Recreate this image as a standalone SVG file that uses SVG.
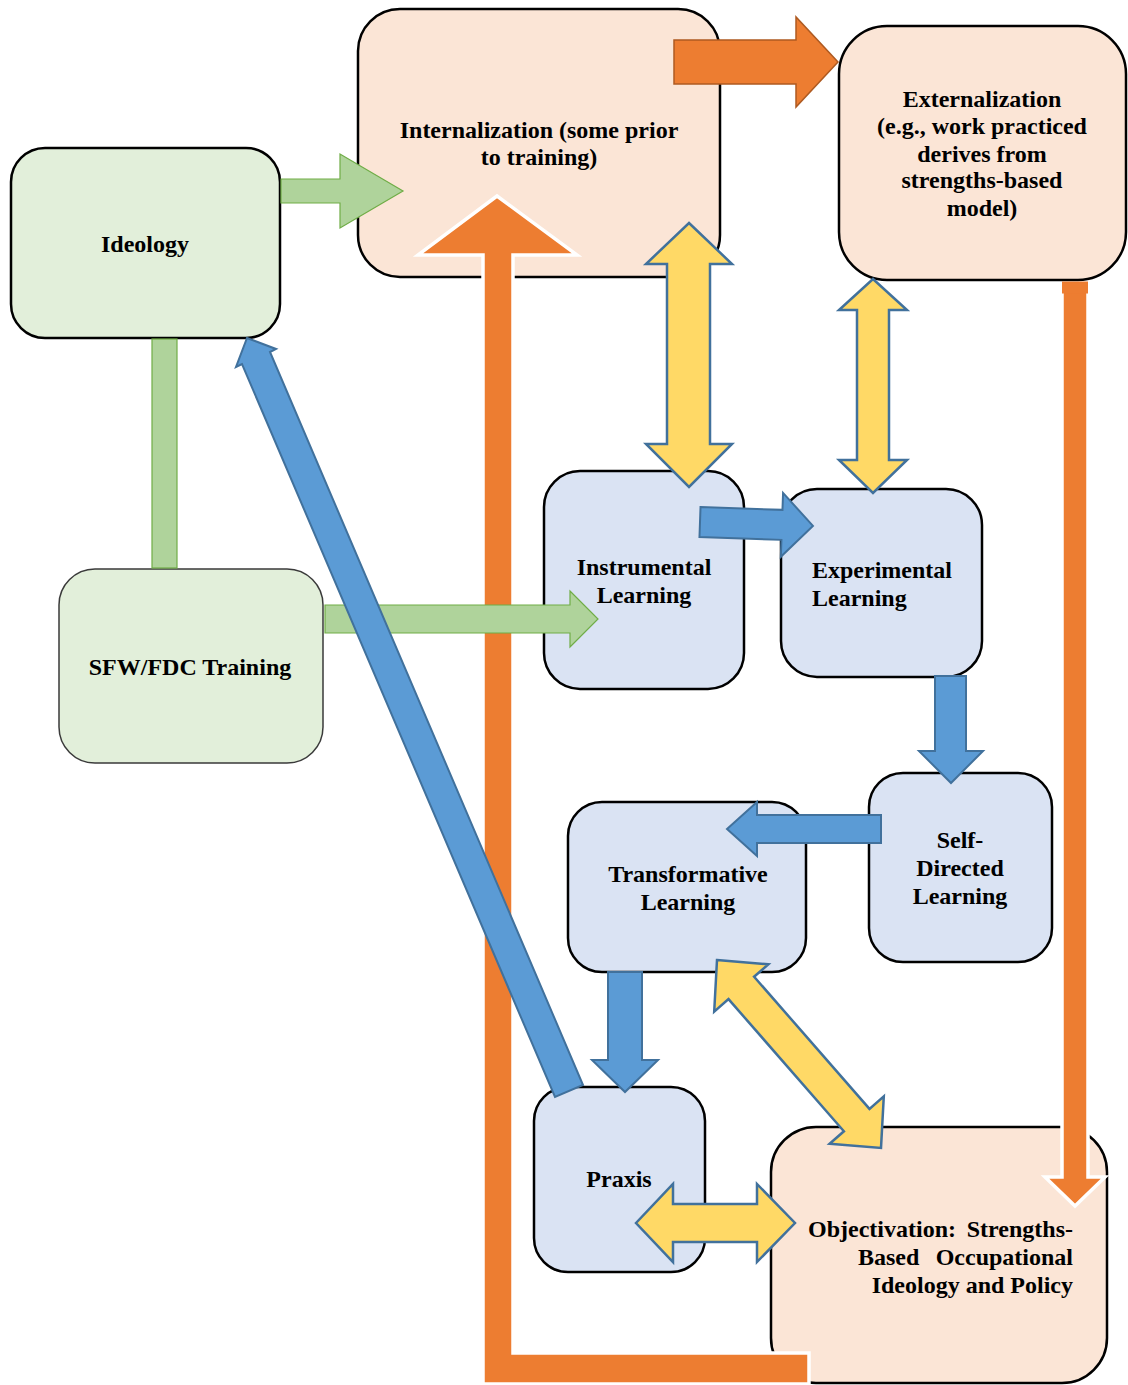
<svg xmlns="http://www.w3.org/2000/svg" width="1128" height="1385" viewBox="0 0 1128 1385">
  <style>
    .box { stroke: #000; stroke-width: 2.5; }
    .thin { stroke: #3a3a3a; stroke-width: 1.5; }
    .peach { fill: #FBE5D6; }
    .green { fill: #E2EFDA; }
    .blue { fill: #DAE3F3; }
    text { font-family: "Liberation Serif", "Times New Roman", serif; font-weight: bold; font-size: 24px; fill: #000; }
    .c { text-anchor: middle; }
    .e { text-anchor: end; }
    .orange { fill: #ED7D31; stroke: #fff; stroke-width: 3.5; stroke-linejoin: miter; }
    .orange-flat { fill: #ED7D31; }
    .orange-dark { fill: #ED7D31; stroke: #AE5A21; stroke-width: 1.5; }
    .yellow { fill: #FFD966; stroke: #41719C; stroke-width: 2.5; stroke-linejoin: miter; }
    .bluea { fill: #5B9BD5; stroke: #41719C; stroke-width: 2; }
    .greena { fill: #AFD39B; stroke: #70AD47; stroke-width: 1.2; }
  </style>

  <rect width="1128" height="1385" fill="#fff"/>

  <!-- nodes -->
  <g id="internalization">
    <rect class="box peach" x="358" y="9" width="362" height="268" rx="42"/>
    <text class="c" x="539" y="138">Internalization (some prior</text>
    <text class="c" x="539" y="165">to training)</text>
  </g>

  <g id="externalization">
    <rect class="box peach" x="839" y="26" width="287" height="254" rx="48"/>
    <text class="c" x="982" y="107">Externalization</text>
    <text class="c" x="982" y="134">(e.g., work practiced</text>
    <text class="c" x="982" y="162">derives from</text>
    <text class="c" x="982" y="188">strengths-based</text>
    <text class="c" x="982" y="216">model)</text>
  </g>

  <g id="ideology">
    <rect class="box green" x="11" y="148" width="269" height="190" rx="34"/>
    <text class="c" x="145" y="252">Ideology</text>
  </g>

  <g id="sfw-fdc-training">
    <rect class="thin green" x="59" y="569" width="264" height="194" rx="36"/>
    <text class="c" x="190" y="675">SFW/FDC Training</text>
  </g>

  <g id="instrumental-learning">
    <rect class="box blue" x="544" y="471" width="200" height="218" rx="36"/>
    <text class="c" x="644" y="575">Instrumental</text>
    <text class="c" x="644" y="603">Learning</text>
  </g>

  <g id="experimental-learning">
    <rect class="box blue" x="781" y="489" width="201" height="188" rx="36"/>
    <text x="812" y="578">Experimental</text>
    <text x="812" y="606">Learning</text>
  </g>

  <g id="self-directed-learning">
    <rect class="box blue" x="869" y="773" width="183" height="189" rx="34"/>
    <text class="c" x="960" y="848">Self-</text>
    <text class="c" x="960" y="876">Directed</text>
    <text class="c" x="960" y="904">Learning</text>
  </g>

  <g id="transformative-learning">
    <rect class="box blue" x="568" y="802" width="238" height="170" rx="34"/>
    <text class="c" x="688" y="882">Transformative</text>
    <text class="c" x="688" y="910">Learning</text>
  </g>

  <g id="praxis">
    <rect class="box blue" x="534" y="1087" width="171" height="185" rx="34"/>
    <text class="c" x="619" y="1187">Praxis</text>
  </g>

  <g id="objectivation">
    <rect class="box peach" x="771" y="1127" width="336" height="256" rx="45"/>
    <text x="808" y="1237">Objectivation:</text>
    <text class="e" x="1073" y="1237">Strengths-</text>
    <text x="858" y="1265">Based</text>
    <text class="e" x="1073" y="1265">Occupational</text>
    <text class="e" x="1073" y="1293">Ideology and Policy</text>
  </g>

  <!-- connectors -->
  <g id="connectors">
    <!-- internalization to externalization -->
    <polygon class="orange-dark" points="674,40 796,40 796,17 838,62 796,107 796,84 674,84"/>

    <!-- ideology to internalization -->
    <polygon class="greena" points="281,179 340,179 340,154 403,191 340,228 340,203 281,203"/>

    <!-- ideology / training link -->
    <rect class="greena" x="152" y="339" width="25" height="229"/>

    <!-- externalization down to objectivation -->
    <polygon class="orange" points="1062,290 1088,290 1088,1177 1105,1177 1075,1206 1045,1177 1062,1177"/>
    <rect class="orange-flat" x="1062" y="281.5" width="26" height="12"/>

    <!-- objectivation back up to internalization -->
    <polygon class="orange" points="483,1384 809,1384 809,1353 513,1353 513,255 577,255 497,196 418,255 483,255"/>

    <!-- training to instrumental learning -->
    <polygon class="greena" points="325,605 570,605 570,591 598,619 570,647 570,633 325,633"/>

    <!-- praxis back to ideology -->
    <polygon class="bluea" points="247,338 276,349 270,352 583,1085 555,1097 242,364 236,367"/>

    <!-- learning sequence -->
    <polygon class="bluea" transform="rotate(2 700 522)" points="700,507 782,507 782,490 813,522 782,554 782,537 700,537"/>
    <polygon class="bluea" points="935,676 966,676 966,751 983,751 951,783 919,751 935,751"/>
    <polygon class="bluea" points="881,815 757,815 757,802 727,829 757,856 757,843 881,843"/>
    <polygon class="bluea" points="608,972 642,972 642,1060 658,1060 625,1092 592,1060 608,1060"/>

    <!-- two-way links -->
    <polygon class="yellow" points="689,223 732,264 710,264 710,444 732,444 689,487 646,444 667,444 667,264 646,264"/>
    <polygon class="yellow" points="873,279 907,310 889,310 889,460 907,460 873,493 839,460 857,460 857,310 839,310"/>
    <polygon class="yellow" points="717,960 768.4,964.3 754.1,976.7 869.5,1108.9 883.8,1096.4 881,1148 829.6,1143.8 843.9,1131.3 728.5,999.1 714.2,1011.6"/>
    <polygon class="yellow" points="636,1223 673,1184 673,1204 757,1204 757,1184 795,1223 757,1262 757,1242 673,1242 673,1262"/>
  </g>
</svg>
